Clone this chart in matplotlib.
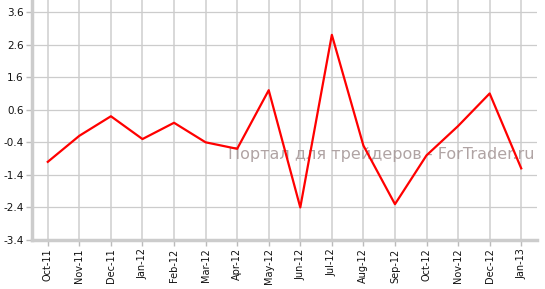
import matplotlib
matplotlib.use('Agg')
from matplotlib import pyplot as plt

months = ['Oct-11', 'Nov-11', 'Dec-11', 'Jan-12', 'Feb-12', 'Mar-12', 'Apr-12', 'May-12',
          'Jun-12', 'Jul-12', 'Aug-12', 'Sep-12', 'Oct-12', 'Nov-12', 'Dec-12', 'Jan-13']
values = [-1.0, -0.2, 0.4, -0.3, 0.2, -0.4, -0.6, 1.2,
          -2.4, 2.9, -0.5, -2.3, -0.8, 0.1, 1.1, -1.2]
y_ticks = [-3.4, -2.4, -1.4, -0.4, 0.6, 1.6, 2.6, 3.6]

fig = plt.figure(figsize=(5.45, 2.89), dpi=100)
ax = fig.add_axes([32 / 545, 49 / 289, 505 / 545, 289 / 289 - 49 / 289])

x = list(range(len(months)))
ax.plot(x, values, color='#ff0000', lw=1.6, zorder=3)

ax.set_xlim(-0.5, len(months) - 0.5)
ax.set_ylim(-3.4, 3.97)
ax.set_xticks(x)
ax.set_xticklabels(months, rotation=90, fontsize=7, color='#111111')
ax.set_yticks(y_ticks)
ax.set_yticklabels(['%.1f' % v for v in y_ticks], fontsize=7.5, color='#111111')

ax.grid(axis='y', color='#cccccc', lw=0.9)
ax.grid(axis='x', color='#d8d8d8', lw=1.4)
ax.set_axisbelow(True)

for s in ['top', 'right']:
    ax.spines[s].set_visible(False)
for s in ['left', 'bottom']:
    ax.spines[s].set_color('#cccccc')
    ax.spines[s].set_linewidth(2.5)
ax.tick_params(length=4, width=1, color='#bbbbbb', pad=2)

# watermark
ax.text(0.995, 0.355, 'Портал для трейдеров - ForTrader.ru', transform=ax.transAxes,
        ha='right', va='center', fontsize=11.5, color='#a89a9a', alpha=0.9, zorder=2)

fig.savefig('out.png', dpi=100)
